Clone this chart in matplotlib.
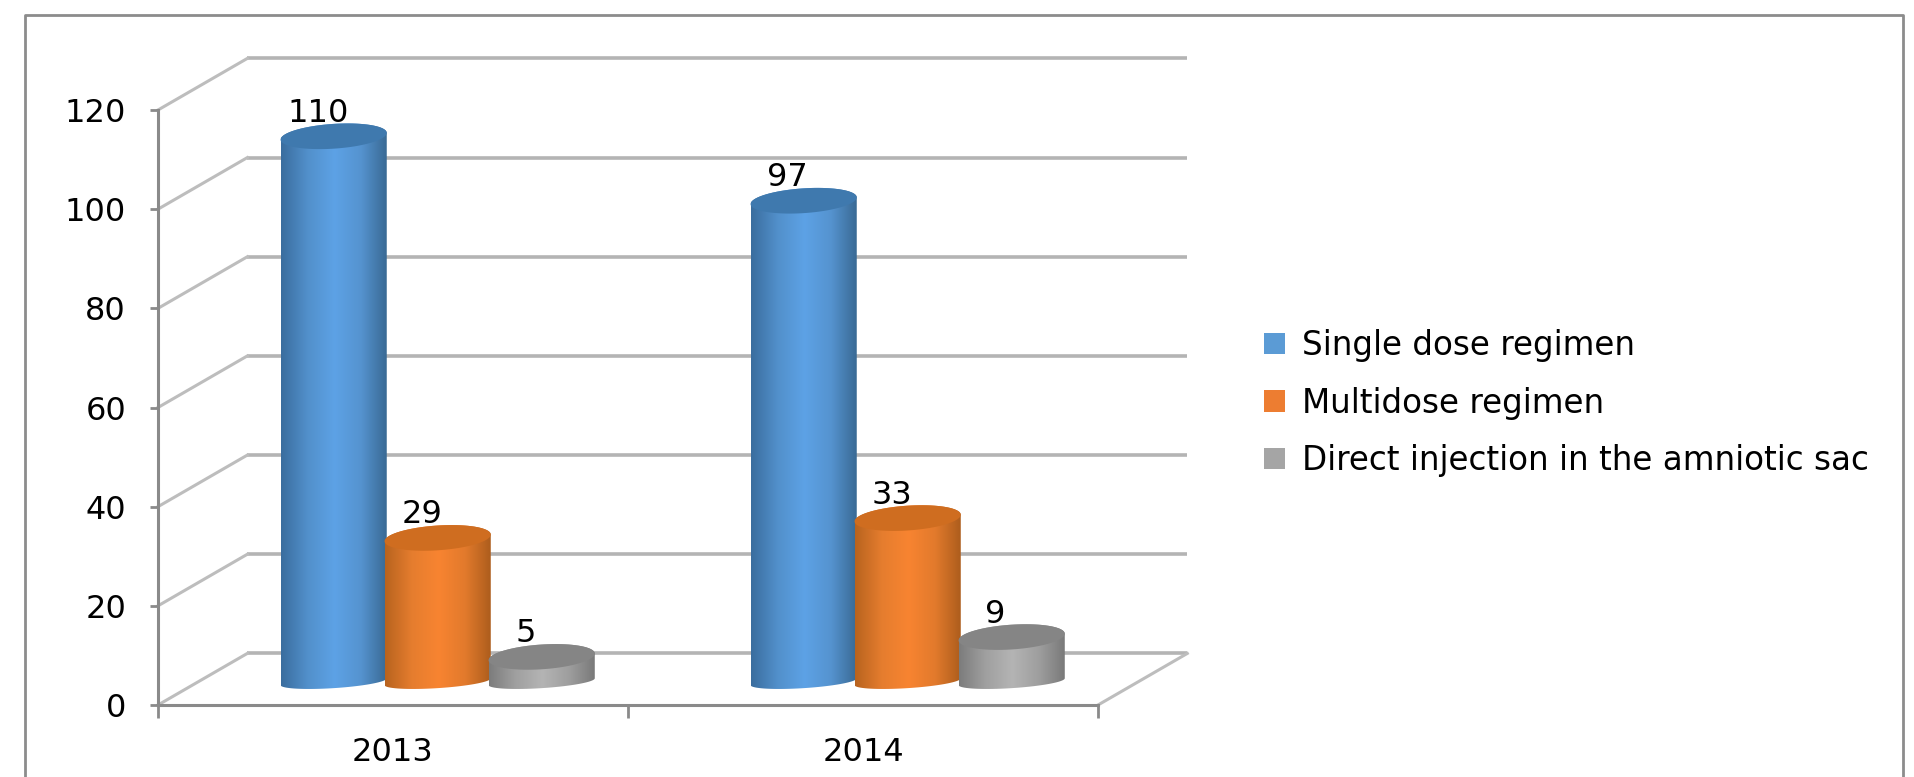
"""Oblique 3D cylinder chart of regimens per year, drawn with plain matplotlib."""
import numpy as np
import matplotlib
matplotlib.use("Agg")
import matplotlib.pyplot as plt
from matplotlib.colors import LinearSegmentedColormap
from matplotlib.patches import Patch, Polygon

W, H = 1915, 777
FONT = "DejaVu Sans"

years = ["2013", "2014"]
single_dose = [110, 97]
multidose = [29, 33]
direct_injection = [5, 9]
series_names = ["Single dose regimen", "Multidose regimen",
                "Direct injection in the amniotic sac"]
y_ticks = [0, 20, 40, 60, 80, 100, 120]

# colours: body gradient left to right, top cap, legend swatch
BLUE = (["#3a6d9e", "#5290cb", "#5da2e6", "#5593cf", "#386892"], "#3f79ae", "#5b9bd5")
ORANGE = (["#b8631f", "#e57d2e", "#f88431", "#e27a2c", "#ab5c1c"], "#cf6d20", "#ed7d31")
GRAY = (["#7c7c7c", "#a0a0a0", "#b4b4b4", "#9e9e9e", "#787878"], "#858585", "#a5a5a5")
AXIS_C = "#8a8a8a"
GRID_C = "#b4b4b4"
SIDE_C = "#bdbdbd"

# oblique depth of the box, in data units (x categories, y values)
DEPTH_X, DEPTH_Y = 0.19, 10.4
BAR_W, BAR_STEP = 0.226, 0.2213
BASE_Y = DEPTH_Y / 2 - 0.5
CAP_H = 5.0      # cap ellipse height, values
FOOT_H = 2.6     # bottom curve height, values
SHEAR = 6.0      # rise of an ellipse from left to right, values per x unit

fig = plt.figure(figsize=(W / 100, H / 100), dpi=100)
ax = fig.add_axes([158 / W, 1 - 705 / H, 940 / W, 595 / H])
ax.set_xlim(0, 2)
ax.set_ylim(0, 120)
ax.patch.set_alpha(0)

# back wall and side wall gridlines
for v in y_ticks:
    ax.plot([DEPTH_X, 2 + DEPTH_X], [v + DEPTH_Y] * 2, color=GRID_C, lw=2.6,
            clip_on=False, zorder=1, solid_capstyle="butt")
    ax.plot([0, DEPTH_X], [v, v + DEPTH_Y], color=SIDE_C, lw=2.2,
            clip_on=False, zorder=1)
ax.plot([2, 2 + DEPTH_X], [0, DEPTH_Y], color=SIDE_C, lw=2.2, clip_on=False, zorder=1)


def ellipse_pts(xc, yc, t, height=CAP_H):
    x = xc + BAR_W / 2 * np.cos(t)
    y = yc + height / 2 * np.sin(t) + SHEAR * (x - xc)
    return np.column_stack([x, y])


def draw_cylinder(ax, xc, value, style, z):
    colors, cap_c, _ = style
    top = BASE_Y + value
    lower = ellipse_pts(xc, BASE_Y, np.linspace(np.pi, 2 * np.pi, 40), FOOT_H)
    upper = ellipse_pts(xc, top, np.linspace(0, np.pi, 40))
    body = Polygon(np.vstack([lower, upper]), closed=True, facecolor="none",
                   edgecolor="none", zorder=z)
    ax.add_patch(body)
    cmap = LinearSegmentedColormap.from_list("cyl", colors)
    im = ax.imshow(np.linspace(0, 1, 256)[None, :], cmap=cmap, aspect="auto",
                   extent=(xc - BAR_W / 2, xc + BAR_W / 2, 0, top + CAP_H),
                   zorder=z, interpolation="bilinear")
    im.set_clip_path(body)
    cap = ellipse_pts(xc, top, np.linspace(0, 2 * np.pi, 80))
    ax.add_patch(Polygon(cap, closed=True, facecolor=cap_c, edgecolor="none", zorder=z + 0.1))


all_series = [single_dose, multidose, direct_injection]
styles = [BLUE, ORANGE, GRAY]
for i, year in enumerate(years):
    for j, values in enumerate(all_series):
        xc = i + 0.5 + DEPTH_X / 2 + (j - 1) * BAR_STEP
        draw_cylinder(ax, xc, values[i], styles[j], 3 + j)
        ax.annotate(str(values[i]), (xc, values[i] + BASE_Y), xytext=(-16, 23),
                    textcoords="offset pixels", ha="center", va="center",
                    fontsize=23, family=FONT, color="black", zorder=2.5,
                    annotation_clip=False)

ax.set_xlim(0, 2)
ax.set_ylim(0, 120)

# axes
for side in ("top", "right"):
    ax.spines[side].set_visible(False)
for side in ("left", "bottom"):
    ax.spines[side].set_color(AXIS_C)
    ax.spines[side].set_linewidth(2.2)
    ax.spines[side].set_zorder(2)
ax.set_yticks(y_ticks)
ax.set_xticks([0, 1, 2])
ax.set_xticklabels([])
ax.set_xticks([0.5, 1.5], labels=years, minor=True)
ax.tick_params(axis="y", length=6, width=2, color=AXIS_C, pad=17, labelsize=23)
ax.tick_params(axis="x", which="major", length=9, width=2, color=AXIS_C)
ax.tick_params(axis="x", which="minor", length=0, pad=23, labelsize=23)
for lab in ax.get_yticklabels() + ax.get_xticklabels(minor=True):
    lab.set_family(FONT)

handles = [Patch(facecolor=s[2], edgecolor="none") for s in styles]
fig.legend(handles, series_names, loc="center left",
           bbox_to_anchor=(1264 / W, 1 - 403 / H), frameon=False,
           prop={"family": FONT, "size": 23.5}, handlelength=0.64, handleheight=0.64,
           handletextpad=0.52, labelspacing=0.75, borderpad=0, borderaxespad=0)

# outer frame: the bottom edge falls outside the crop
fig.add_artist(plt.Line2D([25 / W, 25 / W, 1903 / W, 1903 / W],
                          [0, 1 - 15 / H, 1 - 15 / H, 0], color="#8c8c8c", lw=2))

fig.savefig("out.png", dpi=100)
